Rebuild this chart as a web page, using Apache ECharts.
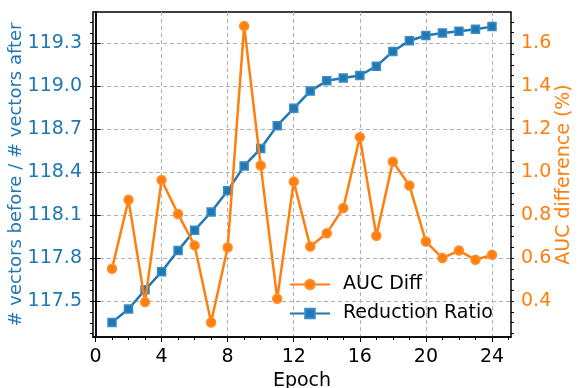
<!DOCTYPE html>
<html>
<head>
<meta charset="utf-8">
<script src="https://cdn.jsdelivr.net/npm/echarts@6/dist/echarts.min.js"></script>
<style>
html, body { margin: 0; padding: 0; background: #fff; }
#main { width: 581px; height: 388px; }
</style>
</head>
<body>
<div id="main"></div>
<script>
var epochs = [1, 2, 3, 4, 5, 6, 7, 8, 9, 10, 11, 12, 13, 14, 15, 16, 17, 18, 19, 20, 21, 22, 23, 24];
var reductionRatio = [117.354, 117.447, 117.581, 117.707, 117.855, 117.997, 118.124, 118.272, 118.446, 118.567,
    118.727, 118.848, 118.968, 119.040, 119.059, 119.077, 119.142, 119.244, 119.319, 119.356,
    119.374, 119.386, 119.400, 119.418];
var aucDiff = [0.550, 0.871, 0.395, 0.963, 0.805, 0.659, 0.300, 0.649, 1.680, 1.031,
    0.411, 0.956, 0.654, 0.716, 0.833, 1.163, 0.704, 1.049, 0.938, 0.677,
    0.600, 0.635, 0.592, 0.615];

var xTicks = [0, 4, 8, 12, 16, 20, 24];
var leftTicks = [117.5, 117.8, 118.1, 118.4, 118.7, 119.0, 119.3];
var rightTicks = [0.4, 0.6, 0.8, 1.0, 1.2, 1.4, 1.6];

var BLUE = '#1f77b4';
var ORANGE = '#ff7f0e';
var FONT = 'DejaVu Sans';
var FS = 19;

var xMin = -0.15, xMax = 25.15;
var leftMin = 117.252, leftMax = 119.52;
var rightMin = 0.2326, rightMax = 1.7456;

// minor tick positions
function steps(from, to, step) {
    var out = [];
    for (var v = from; v <= to + 1e-9; v += step) out.push(Math.round(v * 1000) / 1000);
    return out;
}
var xMinor = steps(0, 25, 1);
var leftMinor = steps(117.275, 119.5, 0.075);
var rightMinor = steps(0.25, 1.7, 0.05);

var chart = echarts.init(document.getElementById('main'));

var dashed = { show: true, lineStyle: { color: '#b0b0b0', width: 1, type: [4, 3] } };

function minorAxis(base, values) {
    return Object.assign({
        type: 'value',
        axisLine: { show: false },
        axisTick: { show: true, customValues: values, length: 3, lineStyle: { color: '#000', width: 1 } },
        axisLabel: { show: false },
        splitLine: { show: false }
    }, base);
}

var option = {
    animation: false,
    grid: {
        left: 93, right: 70, top: 12, bottom: 51,
        outerBoundsMode: 'none',
        containLabel: false,
        show: true, borderColor: '#000', borderWidth: 1.5
    },
    legend: {
        orient: 'vertical',
        left: 284,
        top: 270,
        itemWidth: 40,
        itemHeight: 12,
        itemGap: 10,
        data: ['AUC Diff', 'Reduction Ratio'],
        textStyle: { fontFamily: FONT, fontSize: FS, color: '#000', padding: [0, 0, 0, 8] }
    },
    xAxis: [{
        type: 'value',
        min: xMin, max: xMax,
        name: 'Epoch',
        nameLocation: 'middle',
        nameGap: 35,
        nameMoveOverlap: false,
        nameTextStyle: { fontFamily: FONT, fontSize: FS, color: '#000' },
        axisLine: { show: true, lineStyle: { color: '#000', width: 1.5 } },
        axisTick: { show: true, customValues: xTicks, length: 5, lineStyle: { color: '#000', width: 1 } },
        axisLabel: { customValues: xTicks, margin: 11, fontFamily: FONT, fontSize: FS, color: '#000' },
        splitLine: dashed
    }, minorAxis({ min: xMin, max: xMax, position: 'bottom' }, xMinor)],
    yAxis: [{
        type: 'value',
        position: 'left',
        min: leftMin, max: leftMax,
        name: '# vectors before / # vectors after',
        nameLocation: 'middle',
        nameGap: 68,
        nameMoveOverlap: false,
        nameTextStyle: { fontFamily: FONT, fontSize: 18, color: BLUE },
        axisLine: { show: true, lineStyle: { color: '#000', width: 1.5 } },
        axisTick: { show: true, customValues: leftTicks, length: 5, lineStyle: { color: '#000', width: 1 } },
        axisLabel: {
            customValues: leftTicks, margin: 11, fontFamily: FONT, fontSize: FS, color: BLUE,
            formatter: function (v) { return v.toFixed(1); }
        },
        splitLine: dashed
    }, {
        type: 'value',
        position: 'right',
        min: rightMin, max: rightMax,
        name: 'AUC difference (%)',
        nameLocation: 'middle',
        nameRotate: 90,
        nameGap: 44,
        nameMoveOverlap: false,
        nameTextStyle: { fontFamily: FONT, fontSize: FS, color: ORANGE },
        axisLine: { show: true, lineStyle: { color: '#000', width: 1.5 } },
        axisTick: { show: true, customValues: rightTicks, length: 5, lineStyle: { color: '#000', width: 1 } },
        axisLabel: {
            customValues: rightTicks, margin: 10, fontFamily: FONT, fontSize: FS, color: ORANGE,
            formatter: function (v) { return v.toFixed(1); }
        },
        splitLine: { show: false }
    },
    minorAxis({ min: leftMin, max: leftMax, position: 'left' }, leftMinor),
    minorAxis({ min: rightMin, max: rightMax, position: 'right' }, rightMinor)],
    series: [{
        name: 'Reduction Ratio',
        type: 'line',
        yAxisIndex: 0,
        data: epochs.map(function (e, i) { return [e, reductionRatio[i]]; }),
        symbol: 'rect',
        symbolSize: 8,
        showAllSymbol: true,
        lineStyle: { color: BLUE, width: 2.5 },
        itemStyle: { color: BLUE, borderColor: '#3a8cc4', borderWidth: 1.5 },
        z: 3
    }, {
        name: 'AUC Diff',
        type: 'line',
        yAxisIndex: 1,
        data: epochs.map(function (e, i) { return [e, aucDiff[i]]; }),
        symbol: 'circle',
        symbolSize: 9,
        showAllSymbol: true,
        lineStyle: { color: ORANGE, width: 2.5 },
        itemStyle: { color: ORANGE, borderColor: '#ff8f2e', borderWidth: 1.5 },
        z: 4
    }]
};
chart.setOption(option);
</script>
</body>
</html>
